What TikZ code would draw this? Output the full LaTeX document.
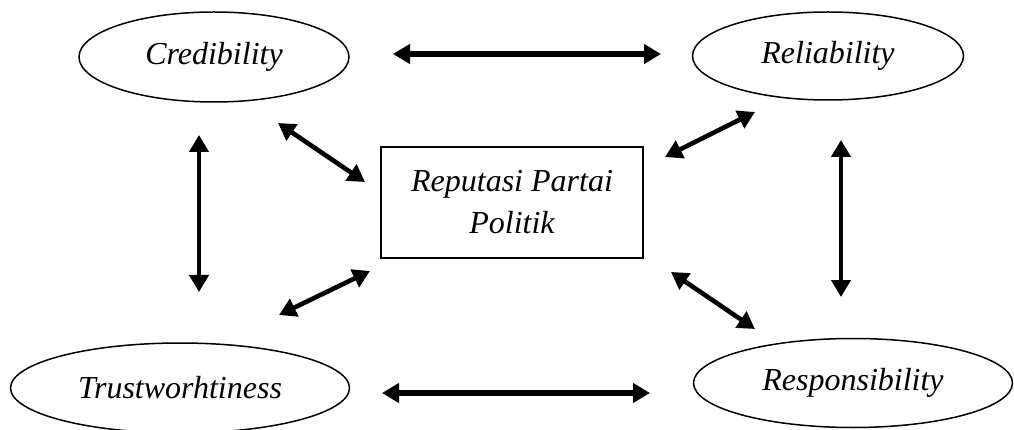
\documentclass[tikz,border=0pt]{standalone}
\usepackage{fontspec}
\setmainfont{Liberation Serif}
\usetikzlibrary{arrows.meta,shapes.geometric}
\begin{document}
\begin{tikzpicture}[x=1pt,y=-1pt,
  every node/.style={font=\fontsize{32}{42}\selectfont\itshape},
  oval/.style={draw,ellipse,line width=1.5pt,inner sep=0pt},
  box/.style={draw,rectangle,line width=1.5pt,inner sep=0pt,align=center},
  dbl/.style={line width=5.2pt,{Triangle[length=17pt,width=19pt]}-{Triangle[length=17pt,width=19pt]}}]
\useasboundingbox (0,0) rectangle (1014,430);
\node[oval,minimum width=270pt,minimum height=90pt] (cred) at (214,57) {Credibility};
\node[oval,minimum width=271pt,minimum height=88pt] (reli) at (828,56) {Reliability};
\node[oval,minimum width=339pt,minimum height=90pt] (trus) at (180,388) {Trustworhtiness};
\node[oval,minimum width=319pt,minimum height=89pt] (resp) at (853,383) {Responsibility};
\node[box,minimum width=262pt,minimum height=111pt] (rep) at (512,202.5) {Reputasi Partai\\Politik};
\coordinate (a1) at (393,54);  \coordinate (a2) at (661,54);
\coordinate (b1) at (382,393); \coordinate (b2) at (650,393);
\coordinate (c1) at (199,135); \coordinate (c2) at (199,292);
\coordinate (d1) at (841,140); \coordinate (d2) at (841,297);
\coordinate (e1) at (278,123); \coordinate (e2) at (365,182);
\coordinate (f1) at (755,112); \coordinate (f2) at (665,157);
\coordinate (g1) at (370,271); \coordinate (g2) at (279,315);
\coordinate (h1) at (671,272); \coordinate (h2) at (755,329);
\draw[dbl] (a1) -- (a2);
\draw[dbl] (b1) -- (b2);
\draw[dbl,line width=4.2pt] (c1) -- (c2);
\draw[dbl,line width=4.2pt] (d1) -- (d2);
\draw[dbl,line width=4.6pt] (e1) -- (e2);
\draw[dbl,line width=4.6pt] (f1) -- (f2);
\draw[dbl,line width=4.6pt] (g1) -- (g2);
\draw[dbl,line width=4.6pt] (h1) -- (h2);
\end{tikzpicture}
\end{document}
